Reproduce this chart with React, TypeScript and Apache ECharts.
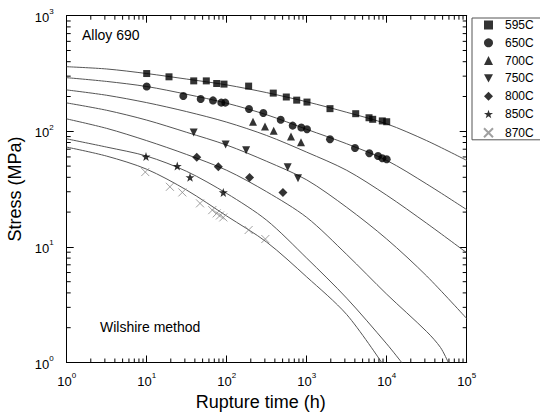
import React, { useEffect, useRef } from "react";
import * as echarts from "echarts";

// ---- measured data (rupture time h, stress MPa) ----
const names = ["595C", "650C", "700C", "750C", "800C", "850C", "870C"];

const d595 = [[10,316],[19,296],[38.7,273],[55.6,273],[75,259],[92.5,256],[188,246],[382,214],[556,198],[750,186],[1008,179],[1955,157],[4098,142],[6010,131],[6683,127],[8810,123],[10000,121]];
const d650 = [[10,244],[28.7,202],[47.3,190],[67.4,185],[85.6,177],[96,177],[190,156],[287,144],[473,126],[668,112],[856,108],[1008,104],[1955,85.4],[4015,71.8],[6060,64.6],[7780,61.2],[8810,58.4],[10000,57.3]];
const d700 = [[213,121],[301,110],[387,101],[636,90],[849,80.5]];
const d750 = [[38.7,97.4],[97,77],[175,68.6],[579,48.8],[778,39.2]];
const d800 = [[42.2,59.6],[78.5,49.4],[193,39.8],[505,29.5]];
const d850 = [[9.8,60.4],[24.1,50.1],[34.8,40],[90.7,29.6]];
const d870 = [[9.6,44.4],[19.5,33.1],[27.9,29.6],[46.4,23.8],[66,20.8],[75,19.5],[82.4,18.7],[90.7,18],[188,14],[304,11.7]];

// ---- Wilshire fit curves ----
const c595 = [[1,362],[3.16,346],[10,316],[31.6,283],[100,252],[316,216],[1000,180],[3162,146],[10000,116],[31620,83],[100000,56]];
const c650 = [[1,291],[3.16,270],[10,244],[31.6,209],[100,175],[316,139],[1000,104],[3162,78],[10000,56],[31620,35],[100000,21]];
const c700 = [[1,228],[3.16,205],[10,177],[31.6,148],[100,120],[316,92],[1000,66],[3162,46],[10000,28],[31620,16],[100000,8.9]];
const c750 = [[1,176],[3.16,152],[10,125],[31.6,98],[100,76],[316,55],[1000,38],[3162,22],[10000,11.7],[31620,5.6],[100000,2.4]];
const c800 = [[1,128],[3.16,106],[10,83],[31.6,63],[100,46],[316,30],[1000,18],[3162,8.6],[10000,3.9],[31620,1.85],[47000,1.35],[58900,1]];
const c850 = [[1,86],[3.16,73],[10,61],[31.6,45],[100,29],[316,17],[1000,8],[3162,3.6],[10000,1.45],[15400,1]];
const c870 = [[1,73],[3.16,61],[10,47],[31.6,31],[100,18.5],[316,11],[1000,5.5],[3162,2.6],[8660,1]];

// ---- axis ticks ----
const xDecades = [1, 10, 100, 1000, 10000];
const yDecades = [1, 10, 100];
const minorMult = [2, 3, 4, 5, 6, 7, 8, 9];
const xMin = 1, xMax = 100000, yMin = 1, yMax = 1000;

const FONT = "Liberation Sans, Arial, sans-serif";

const STAR = "path://M5,0L6.18,3.45L9.76,3.45L6.9,5.6L7.94,9.05L5,7L2.06,9.05L3.1,5.6L0.24,3.45L3.82,3.45Z";
const DOWN = "path://M0,0L10,0L5,9Z";
const CROSS = "path://M0,0L10,10M10,0L0,10";

export default function App() {
  const ref = useRef<HTMLDivElement>(null);
  useEffect(() => {
    if (!ref.current) return;
    const chart = echarts.init(ref.current, null, { renderer: "svg" });

    const xMinor: number[] = [];
    xDecades.forEach((d) => minorMult.forEach((m) => xMinor.push(d * m)));
    const yMinor: number[] = [];
    yDecades.forEach((d) => minorMult.forEach((m) => yMinor.push(d * m)));

    const supLabel = (v: number) => `{b|10}{s|${Math.round(Math.log10(v))}}`;
    const rich = {
      b: { fontSize: 13, fontFamily: FONT, color: "#000", lineHeight: 16, verticalAlign: "bottom" },
      s: { fontSize: 8, fontFamily: FONT, color: "#000", lineHeight: 9, verticalAlign: "top" },
    };
    const axisLine = { show: true, lineStyle: { color: "#000", width: 1 } };
    const axisTick = { show: true, inside: true, length: 7, lineStyle: { color: "#000", width: 1 } };

    const mk = (name: string, data: number[][], symbol: string, size: number) => ({
      name,
      type: "scatter",
      data,
      symbol,
      symbolSize: size,
      itemStyle: { color: "#000" },
      z: 4,
    });

    const curve = (data: number[][]) => ({
      type: "line",
      data,
      showSymbol: false,
      smooth: 0.3,
      lineStyle: { color: "#555", width: 1 },
      silent: true,
      z: 2,
    });

    const tickLen = 4;
    const option: any = {
      animation: false,
      grid: { left: 66.7, right: 73.3, top: 15.7, bottom: 49.5, containLabel: false, outerBoundsMode: "none" },
      xAxis: [
        {
          type: "log", logBase: 10, min: xMin, max: xMax, position: "bottom",
          axisLine, axisTick, splitLine: { show: false },
          axisLabel: { formatter: supLabel, rich, margin: 9 },
          name: "Rupture time (h)", nameLocation: "middle", nameGap: 30,
          nameTextStyle: { fontSize: 18, fontFamily: FONT, color: "#000", padding: [0, 12, 0, 0] },
        },
        {
          type: "log", logBase: 10, min: xMin, max: xMax, position: "top",
          axisLine, axisTick, splitLine: { show: false }, axisLabel: { show: false },
        },
      ],
      yAxis: [
        {
          type: "log", logBase: 10, min: yMin, max: yMax, position: "left",
          axisLine, axisTick, splitLine: { show: false },
          axisLabel: { formatter: supLabel, rich, margin: 13 },
          name: "Stress (MPa)", nameLocation: "middle", nameGap: 41, nameRotate: 90,
          nameTextStyle: { fontSize: 18, fontFamily: FONT, color: "#000" },
        },
        {
          type: "log", logBase: 10, min: yMin, max: yMax, position: "right",
          axisLine, axisTick, splitLine: { show: false }, axisLabel: { show: false },
        },
      ],
      legend: {
        orient: "vertical", left: 472, top: 18,
        itemWidth: 9, itemHeight: 9, itemGap: 5.8,
        padding: [1, 7, 0, 9.5],
        borderColor: "#555", borderWidth: 1, backgroundColor: "#fff",
        textStyle: { fontSize: 12, fontFamily: FONT, color: "#000", lineHeight: 12, padding: [0, 0, 0, 7] },
        data: names,
      },
      graphic: [
        { type: "text", left: 82, top: 28, style: { text: "Alloy 690", fontSize: 14, fontFamily: FONT, fill: "#000" } },
        { type: "text", left: 100, top: 320, style: { text: "Wilshire method", fontSize: 14, fontFamily: FONT, fill: "#000" } },
      ],
      series: [
        curve(c595), curve(c650), curve(c700), curve(c750), curve(c800), curve(c850), curve(c870),
        mk(names[0], d595, "rect", 7),
        mk(names[1], d650, "circle", 8),
        mk(names[2], d700, "triangle", 8),
        mk(names[3], d750, DOWN, 8),
        mk(names[4], d800, "diamond", 9),
        mk(names[5], d850, STAR, 9),
        {
          name: names[6], type: "scatter", data: d870, symbol: CROSS, symbolSize: 8,
          itemStyle: { color: "none", borderColor: "#888", borderWidth: 1 }, z: 4,
        },
        {
          type: "custom", silent: true, clip: false, z: 3,
          data: xMinor.map((v) => [v, yMin]),
          renderItem: (_p: any, api: any) => {
            const v = api.value(0);
            const b = api.coord([v, yMin]);
            const t = api.coord([v, yMax]);
            return {
              type: "group",
              children: [
                { type: "line", shape: { x1: b[0], y1: b[1], x2: b[0], y2: b[1] - tickLen }, style: { stroke: "#000", lineWidth: 1 } },
                { type: "line", shape: { x1: t[0], y1: t[1], x2: t[0], y2: t[1] + tickLen }, style: { stroke: "#000", lineWidth: 1 } },
              ],
            };
          },
        },
        {
          type: "custom", silent: true, clip: false, z: 3,
          data: yMinor.map((v) => [xMin, v]),
          renderItem: (_p: any, api: any) => {
            const v = api.value(1);
            const l = api.coord([xMin, v]);
            const r = api.coord([xMax, v]);
            return {
              type: "group",
              children: [
                { type: "line", shape: { x1: l[0], y1: l[1], x2: l[0] + tickLen, y2: l[1] }, style: { stroke: "#000", lineWidth: 1 } },
                { type: "line", shape: { x1: r[0], y1: r[1], x2: r[0] - tickLen, y2: r[1] }, style: { stroke: "#000", lineWidth: 1 } },
              ],
            };
          },
        },
      ],
    };
    chart.setOption(option);
    return () => chart.dispose();
  }, []);
  return (
    <div
      ref={ref}
      style={{ position: "fixed", left: 0, top: 0, width: 540, height: 412, background: "#fff" }}
    />
  );
}
